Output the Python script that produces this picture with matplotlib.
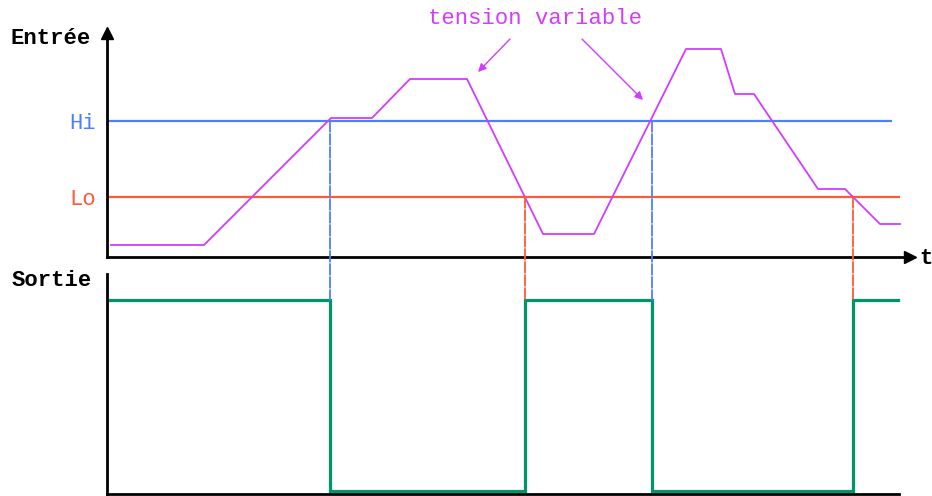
import matplotlib
matplotlib.use("Agg")
import matplotlib.pyplot as plt
from matplotlib.patches import ConnectionPatch

# ---- data (arbitrary time / voltage units) ----
t_in = [0.4, 9.7, 22.4, 26.5, 30.3, 36.0, 43.6, 48.7, 57.9, 61.4, 62.8, 64.7, 71.1, 73.8, 77.3, 79.3]
v_in = [1.2, 1.2, 13.9, 13.9, 17.8, 17.8, 2.3, 2.3, 20.8, 20.8, 16.3, 16.3, 6.8, 6.8, 3.3, 3.3]
hi_level = 13.6
lo_level = 6.0
hi_end = 78.5
lo_end = 79.3

switch_times = [22.3, 41.8, 54.5, 74.6]
switch_levels = [hi_level, lo_level, hi_level, lo_level]
t_out = [0.2, 22.3, 22.3, 41.8, 41.8, 54.5, 54.5, 74.6, 74.6, 79.1]
v_out = [1, 1, 0, 0, 1, 1, 0, 0, 1, 1]

x_max = 80.3
out_axis_end = 79.2

MAGENTA = "#D23CFF"
BLUE = "#4F7FFF"
RED = "#FF5A36"
GREEN = "#00956A"
MONO = "Liberation Mono"
FS = 16

fig = plt.figure(figsize=(9.32, 4.96), dpi=100)
W, H = 932, 496

ax1 = fig.add_axes([107 / W, (H - 257) / H, 803 / W, 224 / H])
ax2 = fig.add_axes([107 / W, 2 / H, 803 / W, 220 / H])

for ax in (ax1, ax2):
    ax.set_xlim(0, x_max)
    ax.spines["top"].set_visible(False)
    ax.spines["right"].set_visible(False)
    for s in ("left", "bottom"):
        ax.spines[s].set_linewidth(2)
        ax.spines[s].set_color("black")
    ax.set_xticks([])
    ax.patch.set_alpha(0)

ax1.set_ylim(0, 22.4)
ax2.set_ylim(-0.0157, 1.136)
ax2.set_yticks([])
ax2.spines["bottom"].set_bounds(0, out_axis_end)

# threshold lines
ax1.hlines(hi_level, 0, hi_end, color=BLUE, lw=1.6)
ax1.hlines(lo_level, 0, lo_end, color=RED, lw=1.6)
ax1.set_yticks([lo_level, hi_level])
ax1.set_yticklabels(["Lo", "Hi"], fontfamily=MONO, fontsize=FS)
for lab, c in zip(ax1.get_yticklabels(), [RED, BLUE]):
    lab.set_color(c)
ax1.tick_params(axis="y", length=0, pad=8)

# input signal
ax1.plot(t_in, v_in, color=MAGENTA, lw=1.3)

# axis arrows
ax1.plot(0, 1, marker="^", color="black", markersize=9, transform=ax1.transAxes, clip_on=False)
ax1.plot(1, 0, marker=">", color="black", markersize=9, transform=ax1.transAxes, clip_on=False)

# output signal
ax2.plot(t_out, v_out, color=GREEN, lw=2.3, solid_joinstyle="miter")

# dashed connectors
for ts, lvl in zip(switch_times, switch_levels):
    col = BLUE if lvl == hi_level else RED
    con = ConnectionPatch(xyA=(ts, lvl), coordsA=ax1.transData,
                          xyB=(ts, 1), coordsB=ax2.transData,
                          color=col, lw=1.3, linestyle=(0, (6, 1.2)))
    fig.add_artist(con)

# annotation
ax1.text(42.8, 23.9, "tension variable", color=MAGENTA, fontfamily=MONO,
         fontsize=FS, ha="center", va="center", clip_on=False)
ax1.annotate("", xy=(37.1, 18.5), xytext=(40.3, 21.8),
             arrowprops=dict(arrowstyle="-|>", color=MAGENTA, lw=1.0,
                             mutation_scale=12, shrinkA=0, shrinkB=0),
             annotation_clip=False)
ax1.annotate("", xy=(53.6, 15.7), xytext=(47.5, 21.8),
             arrowprops=dict(arrowstyle="-|>", color=MAGENTA, lw=1.0,
                             mutation_scale=12, shrinkA=0, shrinkB=0),
             annotation_clip=False)

# labels
fig.text(11 / W, 1 - 38 / H, "Entrée", fontfamily=MONO, fontweight="bold",
         fontsize=FS, ha="left", va="center")
fig.text(12 / W, 1 - 281 / H, "Sortie", fontfamily=MONO, fontweight="bold",
         fontsize=FS, ha="left", va="center")
fig.text(919 / W, 1 - 259 / H, "t", fontfamily=MONO, fontweight="bold",
         fontsize=FS, ha="left", va="center")

fig.savefig("out.png", dpi=100)
